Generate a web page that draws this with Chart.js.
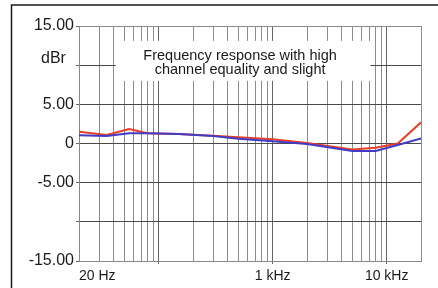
<!DOCTYPE html>
<html>
<head>
<meta charset="utf-8">
<script src="https://cdn.jsdelivr.net/npm/chart.js@4/dist/chart.umd.min.js"></script>
<style>
  html, body { margin: 0; padding: 0; background: #fff; }
  #wrap { width: 438px; height: 288px; position: relative; }
</style>
</head>
<body>
<div id="wrap"><canvas id="chart" width="438" height="288"></canvas></div>
<script>
// frequency points (Hz) and level (dBr) for both channels
const freqs = [20, 35, 55, 80, 150, 300, 500, 1000, 2000, 5000, 8000, 12500, 20000];
const redDb = [1.5, 1.1, 1.85, 1.3, 1.2, 1.0, 0.8, 0.55, 0.05, -0.75, -0.55, 0.0, 2.7];
const blueDb = [1.05, 0.95, 1.3, 1.3, 1.2, 0.95, 0.6, 0.3, -0.05, -0.95, -0.95, -0.2, 0.65];

// grid / tick labels
const gridFreqs = [20, 30, 40, 50, 60, 70, 80, 90, 100, 200, 300, 400, 500, 600, 700, 800, 900,
    1000, 2000, 3000, 4000, 5000, 6000, 7000, 8000, 9000, 10000, 20000];
const xLabels = { 20: "20 Hz", 1000: "1 kHz", 10000: "10 kHz" };
const yTicks = [-15, -10, -5, 0, 5, 10, 15];
const yLabels = { 15: "15.00", 5: "5.00", 0: "0", "-5": "-5.00", "-15": "-15.00" };
const unitLabel = "dBr";
const noteLines = ["Frequency response with high", "channel equality and slight"];

const FONT = "Liberation Sans, Arial, sans-serif";

const toPoints = (ys) => freqs.map((f, i) => ({ x: f, y: ys[i] }));

const decor = {
    id: "decor",
    beforeDraw(chart) {
        const c = chart.ctx;
        c.save();
        c.fillStyle = "#fff";
        c.fillRect(0, 0, chart.width, chart.height);
        // photo frame edges
        c.strokeStyle = "#1a1a1a";
        c.lineWidth = 1.5;
        c.beginPath();
        c.moveTo(11.5, chart.height);
        c.lineTo(11.5, 5);
        c.lineTo(chart.width, 5);
        c.stroke();
        c.restore();
    },
    beforeDatasetsDraw(chart) {
        const c = chart.ctx;
        const xs = chart.scales.x, ys = chart.scales.y;
        const x0 = xs.getPixelForValue(42), x1 = xs.getPixelForValue(7200);
        const y0 = ys.getPixelForValue(13.1), y1 = ys.getPixelForValue(8.0);
        c.save();
        c.fillStyle = "#fff";
        c.fillRect(x0, y0, x1 - x0, y1 - y0);
        c.fillStyle = "#1a1a1a";
        c.font = "14.5px " + FONT;
        c.textAlign = "center";
        c.textBaseline = "middle";
        const cx = (x0 + x1) / 2 - 3;
        c.fillText(noteLines[0], cx, ys.getPixelForValue(11.2));
        c.fillText(noteLines[1], cx, ys.getPixelForValue(9.4));
        c.font = "16px " + FONT;
        c.fillText(unitLabel, ys.right - 25.5, ys.getPixelForValue(10.9));
        c.restore();
    },
};

new Chart(document.getElementById("chart"), {
    type: "line",
    data: {
        datasets: [
            {
                label: "R",
                data: toPoints(redDb),
                borderColor: "rgb(232, 64, 40)",
                borderWidth: 2,
                pointRadius: 0,
                tension: 0,
                order: 1,
            },
            {
                label: "L",
                data: toPoints(blueDb),
                borderColor: "rgb(64, 60, 200)",
                borderWidth: 2,
                pointRadius: 0,
                tension: 0,
                order: 0,
            },
        ],
    },
    options: {
        responsive: false,
        animation: false,
        events: [],
        layout: { padding: { top: 26, right: 17, left: 0, bottom: 0 } },
        plugins: { legend: { display: false }, tooltip: { enabled: false } },
        scales: {
            x: {
                type: "logarithmic",
                min: 20,
                max: 20000,
                afterBuildTicks: (s) => { s.ticks = gridFreqs.map((v) => ({ value: v })); },
                afterFit: (s) => { s.height = 27; },
                border: { color: "#888", width: 1 },
                grid: {
                    color: (ctx) => ([100, 1000, 10000].includes(ctx.tick && ctx.tick.value) ? "#666" : "#8c8c8c"),
                    lineWidth: 1,
                    tickLength: 3,
                    tickColor: (ctx) => ([100, 1000, 10000].includes(ctx.tick && ctx.tick.value) ? "#666" : "rgba(0,0,0,0)"),
                },
                ticks: {
                    autoSkip: false,
                    maxRotation: 0,
                    align: "inner",
                    padding: 4,
                    color: "#1a1a1a",
                    font: { family: FONT, size: 14 },
                    callback: (v) => xLabels[v] || "",
                },
            },
            y: {
                min: -15,
                max: 15,
                afterBuildTicks: (s) => { s.ticks = yTicks.map((v) => ({ value: v })); },
                afterFit: (s) => { s.width = 79; },
                border: { color: "#888", width: 1 },
                grid: {
                    color: (ctx) => (Math.abs(ctx.tick && ctx.tick.value) === 15 ? "#8a8a8a" : "#4a4a4a"),
                    lineWidth: 1,
                    tickLength: 3,
                    tickColor: "#666",
                },
                ticks: {
                    padding: 2,
                    color: "#1a1a1a",
                    font: { family: FONT, size: 16 },
                    callback: (v) => (yLabels[v] !== undefined ? yLabels[v] : ""),
                },
            },
        },
    },
    plugins: [decor],
});
</script>
</body>
</html>
